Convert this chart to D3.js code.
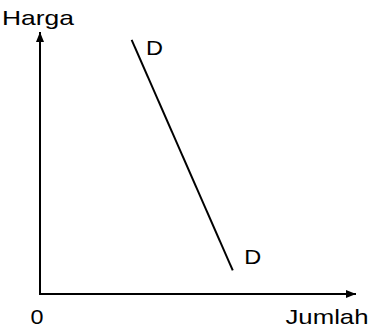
<!DOCTYPE html>
<html>
<head>
<meta charset="utf-8">
<script src="https://cdn.jsdelivr.net/npm/d3@7"></script>
<style>
html,body{margin:0;padding:0;background:#fff;}
svg{display:block;}
text{font-family:"Liberation Sans",Arial,sans-serif;fill:#000;}
</style>
</head>
<body>
<svg id="chart" width="370" height="327"></svg>
<script>
// Data
const axisLabels = {x: "Jumlah", y: "Harga", origin: "0"};
const demandQuantity = [2.9, 6.1];   // Jumlah
const demandPrice = [9.7, 0.9];      // Harga
const curveLabels = ["D", "D"];
const domainMax = [10, 10];

const svg = d3.select("#chart");
const x = d3.scaleLinear().domain([0, domainMax[0]]).range([40, 356]);
const y = d3.scaleLinear().domain([0, domainMax[1]]).range([294, 32]);

const defs = svg.append("defs");
defs.append("marker")
  .attr("id", "arrow")
  .attr("viewBox", "0 0 10 8")
  .attr("refX", 10).attr("refY", 4)
  .attr("markerWidth", 10).attr("markerHeight", 8)
  .attr("markerUnits", "userSpaceOnUse")
  .attr("orient", "auto")
  .append("path").attr("d", "M0,0 L10,4 L0,8 Z").attr("fill", "#000");

// axes
svg.append("line")
  .attr("x1", x(0)).attr("y1", y(0) + 1)
  .attr("x2", x(0)).attr("y2", y(domainMax[1]))
  .attr("stroke", "#000").attr("stroke-width", 2)
  .attr("marker-end", "url(#arrow)");
svg.append("line")
  .attr("x1", x(0) - 1).attr("y1", y(0))
  .attr("x2", x(domainMax[0])).attr("y2", y(0))
  .attr("stroke", "#000").attr("stroke-width", 2)
  .attr("marker-end", "url(#arrow)");

// demand line
const pts = demandQuantity.map((q, i) => [q, demandPrice[i]]);
svg.append("path")
  .datum(pts)
  .attr("d", d3.line().x(d => x(d[0])).y(d => y(d[1])))
  .attr("fill", "none").attr("stroke", "#000").attr("stroke-width", 2);

// labels
function label(t, px, py, size, len) {
  svg.append("text")
    .attr("x", px).attr("y", py)
    .attr("font-size", size)
    .attr("textLength", len)
    .attr("lengthAdjust", "spacingAndGlyphs")
    .text(t);
}
label(axisLabels.y, 2, 25, 21, 72);
label(axisLabels.x, 285.5, 324, 21, 83);
label(axisLabels.origin, x(0) - 9.5, 324, 21, 13);
label(curveLabels[0], x(demandQuantity[0]) + 14.5, 54.5, 20, 17);
label(curveLabels[1], x(demandQuantity[1]) + 11.5, 263.5, 20, 17);
</script>
</body>
</html>
